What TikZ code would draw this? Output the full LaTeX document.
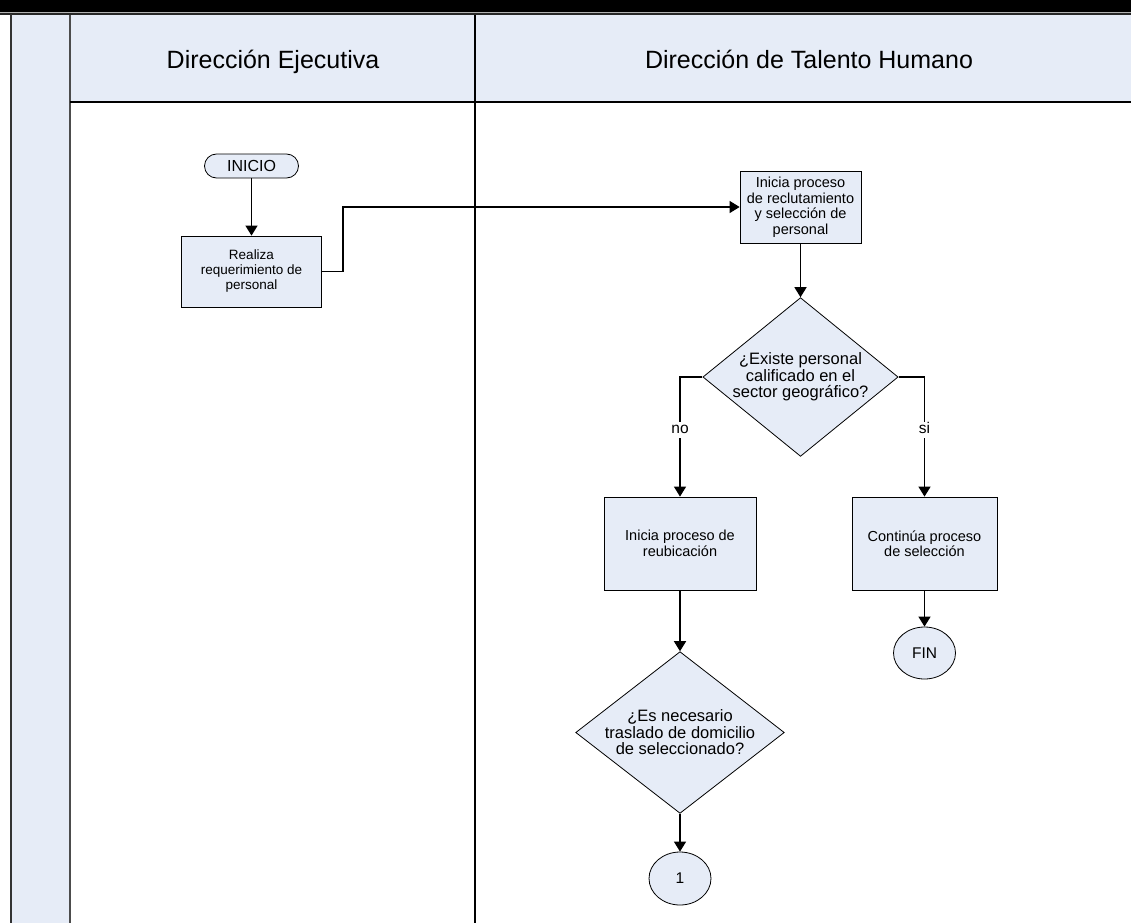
\documentclass[tikz,border=0pt]{standalone}
\usepackage{fontspec}
\setmainfont{Liberation Sans}
\usetikzlibrary{shapes.geometric,shapes.misc,arrows.meta}
\definecolor{lanefill}{RGB}{230,236,247}

\begin{document}
\begin{tikzpicture}[x=1pt,y=-1pt,
  flow/.style={line width=1.3pt,-{Triangle[length=10pt,width=12pt]}},
  procbox/.style={rectangle,draw,line width=0.8pt,fill=lanefill,align=center,inner sep=2pt,
    font=\fontsize{14.5}{15.5}\selectfont},
  decision/.style={diamond,draw,line width=0.8pt,fill=lanefill,align=center,inner sep=0pt,
    font=\fontsize{16.5}{16.5}\selectfont},
  terminal/.style={rounded rectangle,draw,line width=0.8pt,fill=lanefill,inner sep=0pt,
    font=\fontsize{16}{16}\selectfont},
  connector/.style={ellipse,draw,line width=0.8pt,fill=lanefill,inner sep=0pt,
    font=\fontsize{15.5}{15.5}\selectfont},
  lanehead/.style={anchor=base,font=\fontsize{25}{27}\selectfont},
  branch/.style={fill=white,inner sep=1pt,text height=11pt,text depth=3pt,
    font=\fontsize{15.5}{15.5}\selectfont}
]
\useasboundingbox (0,0) rectangle (1131,923);

% title bar and its double rule
\fill[black] (0,0) rectangle (1131,12);
\draw[black!30,line width=1pt] (0,12.5) -- (1131,12.5);
\draw[black!85,line width=2pt] (0,14.5) -- (1131,14.5);

% left strip and header row
\fill[lanefill] (10,15.5) rectangle (70,923);
\fill[lanefill] (70,15.5) rectangle (1131,102);
\draw[black!80,line width=2pt] (11,14) -- (11,923);
\draw[black!70,line width=1.5pt] (70,15.5) -- (70,923);
\draw[line width=1.3pt] (70,102) -- (1131,102);
\draw[line width=1.3pt] (475,15.5) -- (475,923);

% lane titles
\node[lanehead] (lane1) at (273,69) {Dirección Ejecutiva};
\node[lanehead] (lane2) at (809,69) {Dirección de Talento Humano};

% flow nodes
\node[terminal,minimum width=94pt,minimum height=24pt] (inicio) at (251.5,166) {INICIO};
\node[procbox,minimum width=140pt,minimum height=71pt,font=\fontsize{13.5}{15}\selectfont]
  (realiza) at (251.5,271.5) {Realiza\\requerimiento de\\personal};
\node[procbox,minimum width=121pt,minimum height=72pt] (recl) at (800.5,207)
  {Inicia proceso\\de reclutamiento\\y selección de\\personal};
\node[decision,minimum width=194pt,minimum height=158pt,shape aspect=1.23] (existe) at (800.5,377)
  {¿Existe personal\\calificado en el\\sector geográfico?};
\node[procbox,minimum width=152pt,minimum height=93pt] (reub) at (680,543.5)
  {Inicia proceso de\\reubicación};
\node[procbox,minimum width=145pt,minimum height=93pt] (cont) at (924.5,543.5)
  {Continúa proceso\\de selección};
\node[connector,minimum width=62pt,minimum height=52pt] (fin) at (924.5,653) {FIN};
\node[decision,minimum width=200pt,minimum height=155pt,shape aspect=1.29] (traslado) at (680,732.5)
  {¿Es necesario\\traslado de domicilio\\de seleccionado?};
\node[connector,minimum width=62pt,minimum height=53pt] (uno) at (680,878.5) {1};

% connectors
\draw[flow] (inicio.south) -- (realiza.north);
\draw[flow] (realiza.east) -- ++(21,0) |- (recl.west);
\draw[flow] (recl.south) -- (existe.north);
\draw[flow] (existe.west) -| node[branch,pos=0.72] (nolbl) {no} (reub.north);
\draw[flow] (existe.east) -| node[branch,pos=0.72] (silbl) {si} (cont.north);
\draw[flow] (reub.south) -- (traslado.north);
\draw[flow] (cont.south) -- (fin.north);
\draw[flow] (traslado.south) -- (uno.north);
\end{tikzpicture}
\end{document}
